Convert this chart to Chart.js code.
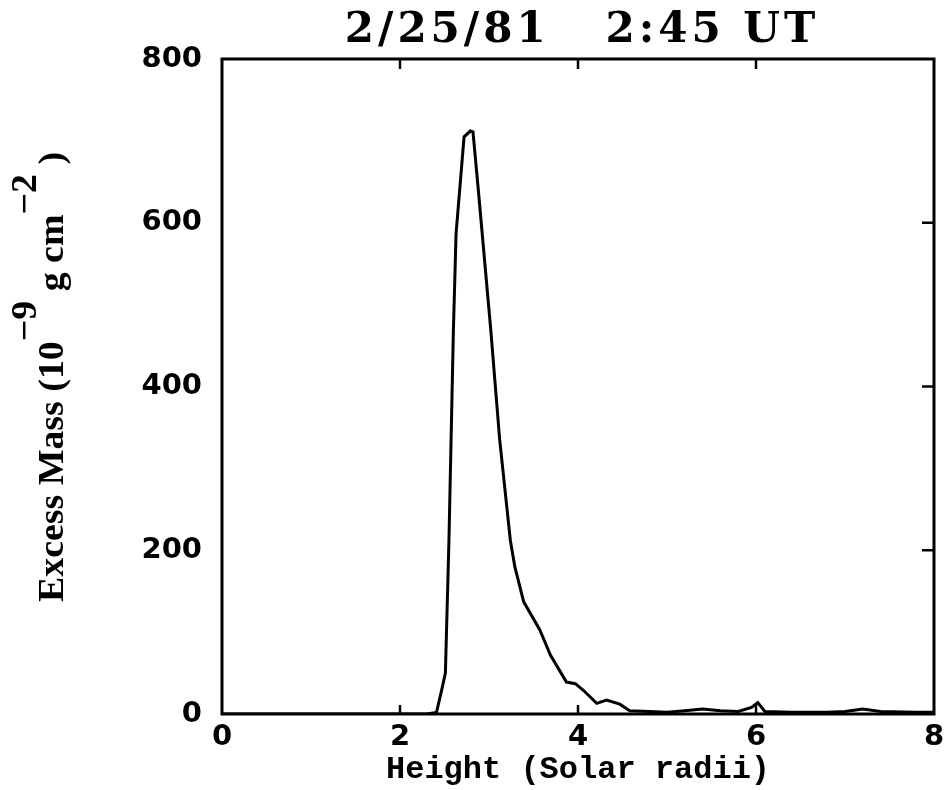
<!DOCTYPE html>
<html>
<head>
<meta charset="utf-8">
<script src="https://cdn.jsdelivr.net/npm/chart.js@4/dist/chart.umd.min.js"></script>
<style>
html,body{margin:0;padding:0;background:#fff;}
#wrap{width:945px;height:790px;position:relative;}
</style>
</head>
<body>
<div id="wrap"><canvas id="c" width="945" height="790"></canvas></div>
<script>
// Data
const heights = [0, 0.5, 1, 1.5, 2, 2.3, 2.41, 2.47, 2.51, 2.55, 2.6, 2.63, 2.72, 2.79, 2.82, 2.88, 3.02, 3.12, 3.24, 3.29, 3.39, 3.57, 3.69, 3.87, 3.97, 4.06, 4.21, 4.32, 4.47, 4.58, 4.8, 5.0, 5.2, 5.4, 5.6, 5.8, 5.95, 6.02, 6.1, 6.4, 6.8, 7.0, 7.2, 7.4, 7.8, 8.0];
const excessMass = [0, 0, 0, 0, 0, 0, 2, 30, 50, 212, 469, 587, 705, 712, 711, 640, 469, 335, 212, 180, 137, 103, 72, 39, 37, 29, 13, 17, 12, 4, 3, 2, 4, 6, 4, 3, 8, 14, 3, 2, 2, 3, 6, 3, 2, 2];
const xTickValues = [0, 2, 4, 6, 8];
const yTickValues = [0, 200, 400, 600, 800];
const titleText = '2/25/81   2:45 UT';
const xTitle = 'Height (Solar radii)';
// y-axis title pieces: [text, isSuperscript]
const yTitleParts = [['Excess Mass (10', false], ['\u22129', true], [' g cm', false], ['\u22122', true], [' )', false]];

const points = heights.map((h, i) => ({x: h, y: excessMass[i]}));

const decorPlugin = {
  id: 'decor',
  afterDatasetsDraw(chart) {
    const {ctx, chartArea: a, scales} = chart;
    ctx.save();
    ctx.strokeStyle = '#000';
    ctx.lineWidth = 3;
    ctx.beginPath();
    ctx.rect(a.left, a.top, a.right - a.left, a.bottom - a.top);
    ctx.stroke();
    ctx.lineWidth = 2.5;
    xTickValues.slice(1, -1).forEach(v => {
      const px = scales.x.getPixelForValue(v);
      ctx.beginPath(); ctx.moveTo(px, a.top); ctx.lineTo(px, a.top + 10); ctx.stroke();
      ctx.beginPath(); ctx.moveTo(px, a.bottom); ctx.lineTo(px, a.bottom - 9); ctx.stroke();
    });
    yTickValues.slice(1, -1).forEach(v => {
      const py = scales.y.getPixelForValue(v);
      ctx.beginPath(); ctx.moveTo(a.right, py); ctx.lineTo(a.right - 12, py); ctx.stroke();
    });
    ctx.restore();
  },
  afterDraw(chart) {
    const {ctx, chartArea: a} = chart;
    // Title centred over plot area
    ctx.save();
    ctx.fillStyle = '#000';
    ctx.font = 'bold 42px "DejaVu Serif"';
    ctx.letterSpacing = '4px';
    ctx.textAlign = 'center';
    ctx.textBaseline = 'alphabetic';
    ctx.fillText(titleText, (a.left + a.right) / 2 + 4, 42);
    ctx.restore();

    // Rotated y-axis title with raised exponents
    ctx.save();
    ctx.fillStyle = '#000';
    ctx.font = 'bold 36px "Liberation Serif"';
    const widths = yTitleParts.map(p => ctx.measureText(p[0]).width);
    const total = widths.reduce((s, w) => s + w, 0);
    const targetLen = 450;
    const k = targetLen / total;
    ctx.translate(63, 377);
    ctx.rotate(-Math.PI / 2);
    ctx.scale(k, 1);
    let x = -total / 2;
    ctx.textBaseline = 'alphabetic';
    ctx.textAlign = 'left';
    yTitleParts.forEach((p, i) => {
      ctx.fillText(p[0], x, p[1] ? -27 : 0);
      x += widths[i];
    });
    ctx.restore();
  }
};

new Chart(document.getElementById('c'), {
  type: 'line',
  data: {
    datasets: [{
      data: points,
      borderColor: '#000',
      borderWidth: 3,
      pointRadius: 0,
      tension: 0,
      fill: false
    }]
  },
  options: {
    responsive: false,
    animation: false,
    devicePixelRatio: 1,
    layout: {padding: {left: 0, right: 11, top: 59, bottom: 0}},
    plugins: {
      legend: {display: false},
      tooltip: {enabled: false},
      title: {display: false}
    },
    scales: {
      x: {
        type: 'linear',
        min: 0, max: 8,
        afterBuildTicks: s => { s.ticks = xTickValues.map(v => ({value: v})); },
        afterFit: s => { s.height = 76; },
        grid: {display: false},
        border: {display: false},
        ticks: {color: '#000', padding: -2, maxRotation: 0,
          font: {family: 'DejaVu Sans', size: 29, weight: 'bold'}},
        title: {display: true, text: xTitle, color: '#000', padding: {top: 0, bottom: 1},
          font: {family: 'Liberation Mono', size: 32, weight: 'bold'}}
      },
      y: {
        type: 'linear',
        min: 0, max: 800,
        afterBuildTicks: s => { s.ticks = yTickValues.map(v => ({value: v})); },
        afterFit: s => { s.width = 222; },
        grid: {display: false},
        border: {display: false},
        ticks: {color: '#000', padding: 12,
          font: {family: 'DejaVu Sans', size: 29, weight: 'bold'}},
        title: {display: false}
      }
    }
  },
  plugins: [decorPlugin]
});
</script>
</body>
</html>
